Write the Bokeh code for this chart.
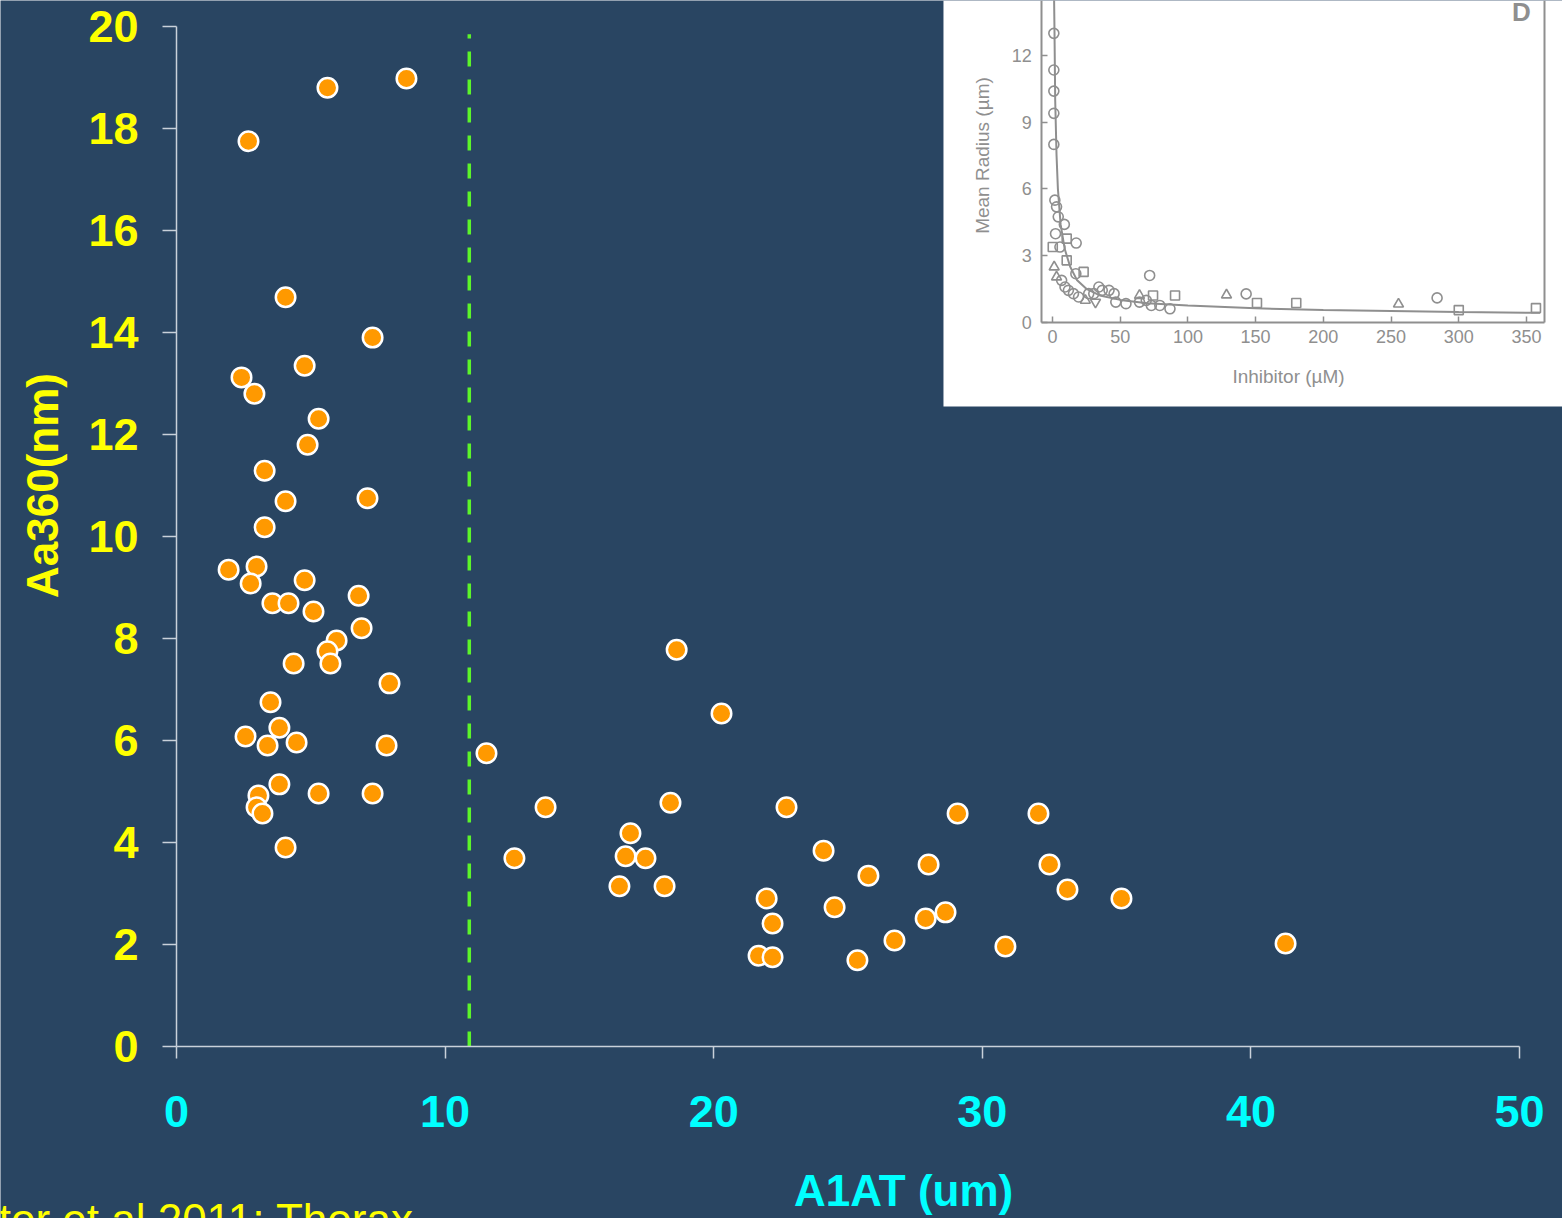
from math import pi
from bokeh.plotting import figure
from bokeh.models import Range1d, LinearAxis, FixedTicker, BoxAnnotation, Label
from bokeh.embed import file_html
from bokeh.resources import INLINE

# ---------------- main chart data ----------------
a1at = [5.62, 8.56, 2.68, 4.06, 7.30, 2.42, 4.77, 2.90, 5.29, 4.88, 3.28, 4.06, 7.11,
        3.28, 1.94, 2.98, 2.76, 4.77, 6.78, 3.57, 4.17, 5.10, 6.89, 5.96, 5.62, 5.73,
        4.36, 7.93, 3.50, 3.83, 2.57, 3.39, 4.47, 7.82, 3.83, 3.05, 5.29, 7.30, 2.98,
        3.20, 4.06,
        11.54, 12.58, 13.74, 18.62, 20.29, 16.90, 16.72, 17.46, 16.49, 18.17, 18.39,
        22.71, 24.09, 21.97, 22.19, 21.67, 22.19, 24.50, 25.76, 25.35, 26.73, 28.00,
        27.89, 28.63, 29.08, 30.86, 32.09, 32.50, 33.17, 35.18, 41.29]
aa360 = [18.80, 18.98, 17.75, 14.69, 13.90, 13.12, 13.35, 12.80, 12.31, 11.80, 11.29,
         10.69, 10.75, 10.18, 9.35, 9.41, 9.08, 9.14, 8.84, 8.69, 8.69, 8.53, 8.20, 7.96,
         7.75, 7.51, 7.51, 7.12, 6.75, 6.25, 6.08, 5.90, 5.96, 5.90, 5.14, 4.92, 4.96,
         4.96, 4.69, 4.57, 3.90,
         5.75, 3.69, 4.69, 7.78, 6.53, 4.18, 3.73, 3.69, 3.14, 3.14, 4.78,
         4.69, 3.84, 2.90, 2.41, 1.78, 1.75, 2.73, 3.35, 1.69, 2.08, 3.57,
         2.51, 2.63, 4.57, 1.96, 4.57, 3.57, 3.08, 2.90, 2.02]
cutoff = [10.9, 10.9]
cutoff_span = [0, 19.85]
x_ticks = [0, 10, 20, 30, 40, 50]
y_ticks = [0, 2, 4, 6, 8, 10, 12, 14, 16, 18, 20]

# ---------------- inset data ----------------
inset_x_ticks = [0, 50, 100, 150, 200, 250, 300, 350]
inset_y_ticks = [0, 3, 6, 9, 12]
circ_x = [1, 1, 1, 1, 1, 8.75, 17.5, 17.25, 71.75, 143, 284, 1.75, 3, 4.25, 2.25, 5.5,
          6.75, 9.25, 11.75, 15.5, 19.25, 26.75, 30.5, 34.25, 36.75, 41.75, 45.5, 46.75,
          54.25, 64.25, 69.25, 73, 79.25, 86.75]
circ_y = [13.0, 11.35, 10.4, 9.4, 8.0, 4.4, 3.56, 2.18, 2.1, 1.27, 1.09, 5.49, 5.19, 4.74,
          3.98, 3.38, 1.88, 1.58, 1.43, 1.28, 1.13, 1.28, 1.28, 1.58, 1.43, 1.43, 1.28,
          0.9, 0.83, 0.9, 0.98, 0.75, 0.75, 0.6]
sq_x = [10.5, 10.5, 23, 74.25, 90.5, 151, 180, 300, 357, 0.2]
sq_y = [3.76, 2.78, 2.26, 1.2, 1.2, 0.86, 0.86, 0.54, 0.63, 3.38]
tri_x = [1.25, 3, 24.25, 64.25, 128.5, 255.5]
tri_y = [2.48, 2.03, 0.98, 1.2, 1.22, 0.81]
itri_x = [31.75]
itri_y = [0.9]
curve_x = [1.2, 1.5, 2, 3, 4, 6, 9, 13, 18, 25, 35, 50, 70, 100, 150, 200, 250, 300, 360]
curve_y = [14.5, 13, 10, 7.5, 6, 4.4, 3.3, 2.5, 1.9, 1.5, 1.2, 1.0, 0.85, 0.75, 0.62,
           0.55, 0.5, 0.45, 0.42]

BG = "#294562"
YEL = "#ffff00"
CYAN = "#00ffff"
AXC = "#c9d1da"
GRAY = "#8f8f8f"
FONT = "Liberation Sans"

p = figure(width=1562, height=1218, output_backend="svg", toolbar_location=None,
           x_range=Range1d(-6.553, 51.60), y_range=Range1d(-3.373, 20.51),
           x_axis_location=None, y_axis_location=None,
           min_border_left=0, min_border_right=0, min_border_top=0,
           min_border_bottom=0,
           background_fill_color=BG, border_fill_color=BG, outline_line_color=None)
p.grid.visible = False

# main axes (placed at the data origin)
xa = LinearAxis(fixed_location=0, ticker=FixedTicker(ticks=x_ticks), bounds=(0, 50),
                axis_line_color=AXC, axis_line_width=1.5,
                major_tick_line_color=AXC, major_tick_line_width=1.5,
                major_tick_out=12, major_tick_in=0, minor_tick_line_color=None,
                major_label_text_color=CYAN, major_label_text_font=FONT,
                major_label_text_font_style="bold", major_label_text_font_size="45px",
                major_label_standoff=38)
p.add_layout(xa, "below")

ya = LinearAxis(fixed_location=0, ticker=FixedTicker(ticks=y_ticks), bounds=(0, 20),
                axis_line_color=AXC, axis_line_width=1.5,
                major_tick_line_color=AXC, major_tick_line_width=1.5,
                major_tick_out=14, major_tick_in=0, minor_tick_line_color=None,
                major_label_text_color=YEL, major_label_text_font=FONT,
                major_label_text_font_style="bold", major_label_text_font_size="45px",
                major_label_standoff=24)
p.add_layout(ya, "left")

# titles
p.add_layout(Label(x=-4.99, y=11.0, text="Aa360(nm)", angle=pi / 2,
                   text_align="center", text_baseline="middle",
                   text_color=YEL, text_font=FONT, text_font_style="bold",
                   text_font_size="44px"))
p.add_layout(Label(x=27.07, y=-2.82, text="A1AT (um)",
                   text_align="center", text_baseline="middle",
                   text_color=CYAN, text_font=FONT, text_font_style="bold",
                   text_font_size="44px"))
p.add_layout(Label(x=-6.62, y=-3.40, text="tor et al 2011; Thorax",
                   text_align="left", text_baseline="alphabetic",
                   text_color=YEL, text_font=FONT, text_font_size="44px"))

# threshold and data
p.line(cutoff, cutoff_span, line_color="#5cf52a", line_width=3.5, line_dash="15 13")
p.scatter(a1at, aa360, size=19.5, fill_color="#ff9900", line_color="white",
          line_width=2.5)

# ---------------- inset ----------------
p.extra_x_ranges = {"ix": Range1d(-776.8, 376.6)}
p.extra_y_ranges = {"iy": Range1d(-40.36, 14.48)}

p.add_layout(BoxAnnotation(left=-80.5, bottom=-3.80, x_range_name="ix",
                           y_range_name="iy", fill_color="white", fill_alpha=1.0,
                           line_alpha=0, level="underlay"))

ixa = LinearAxis(x_range_name="ix", y_range_name="iy", fixed_location=0,
                 ticker=FixedTicker(ticks=inset_x_ticks), bounds=(-8, 363),
                 axis_line_color=GRAY, axis_line_width=2,
                 major_tick_line_color=GRAY, major_tick_line_width=1.5,
                 major_tick_in=6, major_tick_out=0,
                 minor_tick_line_color=None,
                 major_label_text_color=GRAY, major_label_text_font=FONT,
                 major_label_text_font_size="18px", major_label_standoff=8)
p.add_layout(ixa, "below")

iya = LinearAxis(x_range_name="ix", y_range_name="iy", fixed_location=-8,
                 ticker=FixedTicker(ticks=inset_y_ticks), bounds=(0, 14.48),
                 axis_line_color=GRAY, axis_line_width=2,
                 major_tick_line_color=GRAY, major_tick_line_width=1.5,
                 major_tick_in=6, major_tick_out=0,
                 minor_tick_line_color=None,
                 major_label_text_color=GRAY, major_label_text_font=FONT,
                 major_label_text_font_size="18px", major_label_standoff=10)
p.add_layout(iya, "left")

iyr = LinearAxis(x_range_name="ix", y_range_name="iy", fixed_location=363,
                 ticker=FixedTicker(ticks=[]), bounds=(0, 14.48),
                 axis_line_color=GRAY, axis_line_width=2,
                 major_tick_line_color=None, minor_tick_line_color=None,
                 major_label_text_alpha=0, major_label_text_font_size="1px")
p.add_layout(iyr, "right")

p.add_layout(Label(x=-51.7, y=7.5, x_range_name="ix", y_range_name="iy",
                   text="Mean Radius (µm)", angle=pi / 2, text_align="center",
                   text_baseline="middle", text_color=GRAY, text_font=FONT,
                   text_font_size="19px"))
p.add_layout(Label(x=174.3, y=-2.45, x_range_name="ix", y_range_name="iy",
                   text="Inhibitor (µM)", text_align="center",
                   text_baseline="middle", text_color=GRAY, text_font=FONT,
                   text_font_size="19px"))
p.add_layout(Label(x=346.3, y=13.95, x_range_name="ix", y_range_name="iy",
                   text="D", text_align="center", text_baseline="middle",
                   text_color=GRAY, text_font=FONT, text_font_style="bold",
                   text_font_size="26px"))

p.line(curve_x, curve_y, x_range_name="ix", y_range_name="iy",
       line_color=GRAY, line_width=2)
p.scatter(circ_x, circ_y, x_range_name="ix", y_range_name="iy", marker="circle",
          size=10, fill_color=None, line_color=GRAY, line_width=1.6)
p.scatter(sq_x, sq_y, x_range_name="ix", y_range_name="iy", marker="square",
          size=9, fill_color=None, line_color=GRAY, line_width=1.6)
p.scatter(tri_x, tri_y, x_range_name="ix", y_range_name="iy", marker="triangle",
          size=10, fill_color=None, line_color=GRAY, line_width=1.6)
p.scatter(itri_x, itri_y, x_range_name="ix", y_range_name="iy",
          marker="inverted_triangle", size=10, fill_color=None, line_color=GRAY,
          line_width=1.6)

open("out.html", "w").write(file_html(p, INLINE))
